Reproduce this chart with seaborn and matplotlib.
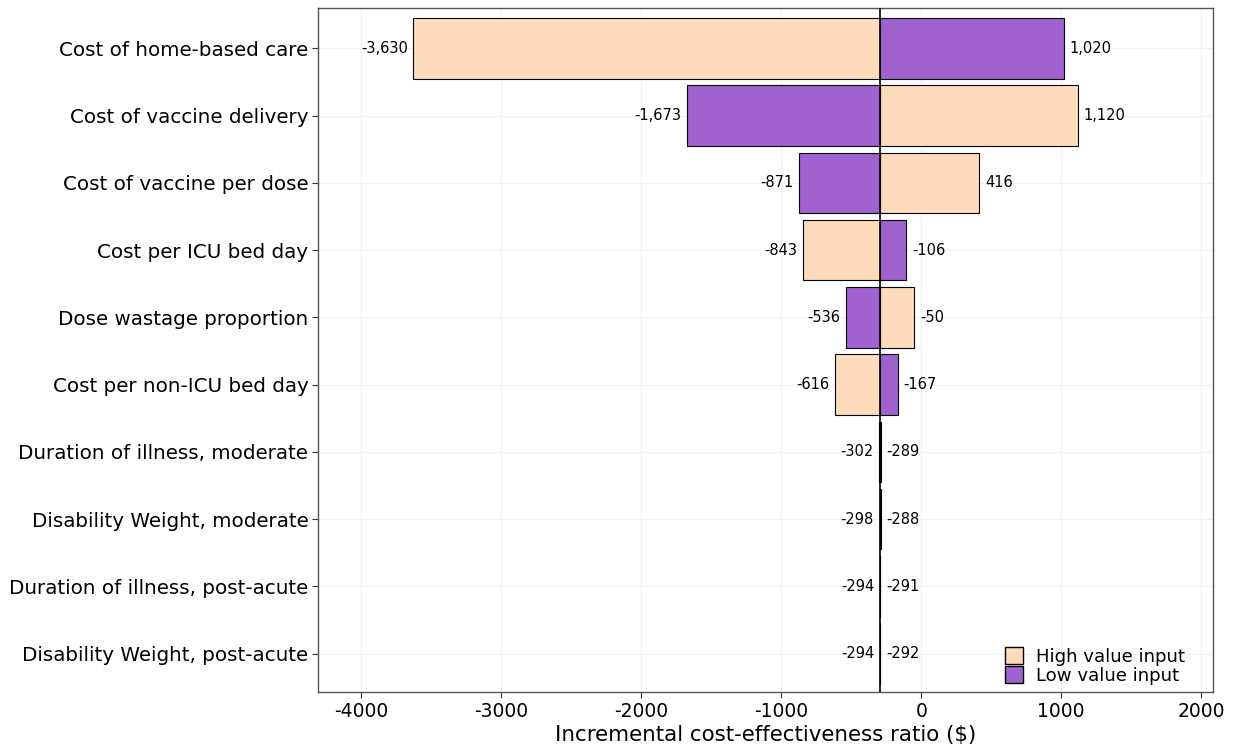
import numpy as np
import pandas as pd
import seaborn as sns
import matplotlib.pyplot as plt
from matplotlib.patches import Patch
from matplotlib.ticker import FixedLocator, FixedFormatter

sns.set_theme(style="whitegrid")
plt.rcParams['font.family'] = ['DejaVu Sans']

params = ['Cost of home-based care', 'Cost of vaccine delivery', 'Cost of vaccine per dose',
          'Cost per ICU bed day', 'Dose wastage proportion', 'Cost per non-ICU bed day',
          'Duration of illness, moderate', 'Disability Weight, moderate',
          'Duration of illness, post-acute', 'Disability Weight, post-acute']
high_vals = [-3630, 1120, 416, -843, -50, -616, -302, -298, -294, -294]
low_vals = [1020, -1673, -871, -106, -536, -167, -289, -288, -291, -292]
base_icer = -295
x_ticks = [-4000, -3000, -2000, -1000, 0, 1000, 2000]

high_col = '#FDDBBB'
low_col = '#A062CE'

df = pd.DataFrame({
    'param': params * 2,
    'value': high_vals + low_vals,
    'input': ['High value input'] * len(params) + ['Low value input'] * len(params),
})
# bars are drawn as offsets from the base-case ICER
df['delta'] = df['value'] - base_icer

fig, ax = plt.subplots(figsize=(12.36, 7.51), dpi=100)
sns.barplot(data=df, x='delta', y='param', hue='input', order=params,
            hue_order=['High value input', 'Low value input'],
            palette=[high_col, low_col], saturation=1, dodge=False, orient='h', width=0.9,
            edgecolor='black', linewidth=0.8, errorbar=None, ax=ax, legend=False)

ax.axvline(0, color='black', lw=1.2, zorder=5)

for i in range(len(params)):
    for v in (high_vals[i], low_vals[i]):
        d = v - base_icer
        left = v < max(high_vals[i], low_vals[i])
        ax.annotate(f'{v:,}', (d, i), xytext=(-4 if left else 4, 0),
                    textcoords='offset points', ha='right' if left else 'left',
                    va='center', fontsize=10.5, color='black')

ax.xaxis.set_major_locator(FixedLocator([t - base_icer for t in x_ticks]))
ax.xaxis.set_major_formatter(FixedFormatter([str(t) for t in x_ticks]))
ax.set_xlim(-4310 - base_icer, 2085 - base_icer)
ax.set_ylim(9.57, -0.6)

ax.set_xlabel('Incremental cost-effectiveness ratio ($)', fontsize=15.4, labelpad=3,
              color='black')
ax.set_ylabel('')
ax.tick_params(axis='x', labelsize=13.5)
ax.tick_params(axis='y', labelsize=14.3)
ax.tick_params(axis='both', colors='#333333', length=4, width=0.8,
               direction='out', bottom=True, left=True, pad=3)
for lab in ax.get_xticklabels() + ax.get_yticklabels():
    lab.set_color('black')
ax.grid(True, color='#f2f2f2', lw=0.8)
for s in ax.spines.values():
    s.set_color('#555555')
    s.set_linewidth(1)

handles = [Patch(facecolor=high_col, edgecolor='black', label='High value input'),
           Patch(facecolor=low_col, edgecolor='black', label='Low value input')]
leg = ax.legend(handles=handles, loc='lower right', bbox_to_anchor=(0.9765, 0.0),
                frameon=False, fontsize=13.1, handlelength=1.0, handleheight=1.1,
                labelspacing=0.0, handletextpad=0.7, borderaxespad=0.0)
for t in leg.get_texts():
    t.set_color('black')

fig.subplots_adjust(left=0.2573, right=0.9814, top=0.9893, bottom=0.0786)
fig.savefig('out.png', dpi=100)
